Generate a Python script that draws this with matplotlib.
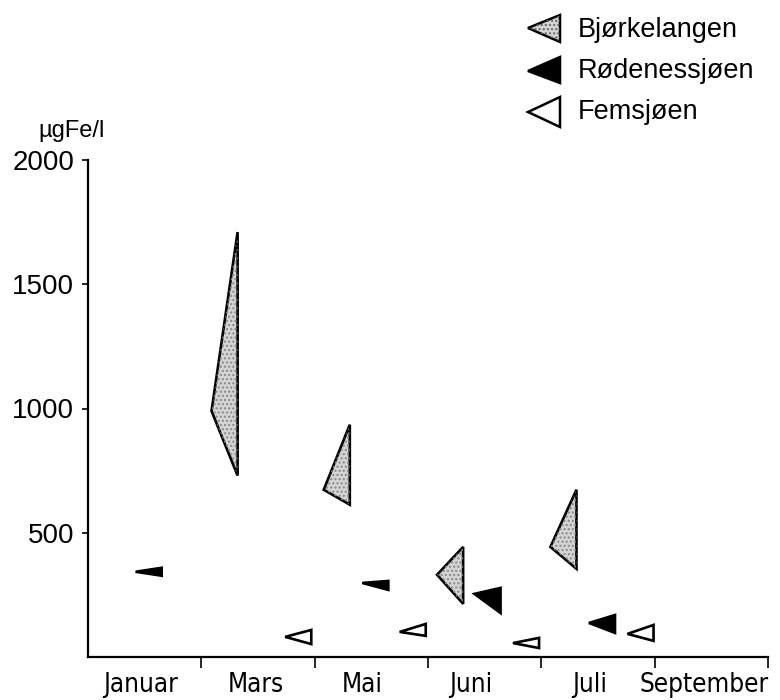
import matplotlib
matplotlib.use("Agg")
import matplotlib.pyplot as plt
from matplotlib.patches import Polygon
from matplotlib import font_manager
from matplotlib.font_manager import FontProperties
from matplotlib.textpath import TextPath

# ---------------- data ----------------
months = ["Januar", "Mars", "Mai", "Juni", "Juli", "September"]
month_label_pos = [0.46, 1.48, 2.42, 3.38, 4.43, 5.44]
yticks = [500, 1000, 1500, 2000]
series_names = ["Bjørkelangen", "Rødenessjøen", "Femsjøen"]

# x = sampling time (in month-interval units), values in µgFe/l
bjork_x = [1.32, 2.31, 3.31, 4.31]
bjork_max = [1710, 935, 443, 673]
bjork_min = [730, 613, 214, 355]
bjork_mean = [990, 673, 331, 443]

roden_x = [0.65, 2.65, 3.64, 4.65]
roden_max = [359, 306, 278, 169]
roden_min = [327, 270, 177, 97]
roden_mean = [343, 298, 254, 137]

fems_x = [1.97, 2.98, 3.98, 4.99]
fems_max = [109, 133, 77, 129]
fems_min = [52, 85, 36, 65]
fems_mean = [81, 101, 56, 93]

# ---------------- style ----------------
W, H = 780, 700
tri_w = 0.23
stipple = "#d4d4d4"
styles = [
    dict(fc=stipple, ec="black"),
    dict(fc="black", ec="black"),
    dict(fc="white", ec="black"),
]
base = "Liberation Sans"

# pick a condensed font for the month labels if one exists
cand = None
for f in font_manager.fontManager.ttflist:
    nm = f.name
    if ("Narrow" in nm or "Condensed" in nm or f.stretch in ("condensed", "semi-condensed")) \
            and f.style == "normal" and f.weight in (400, "normal", "regular") \
            and "Mono" not in nm and "Serif" not in nm:
        cand = f.fname
        break
if cand:
    xprop = FontProperties(fname=cand)
else:
    xprop = FontProperties(family=base)
w1 = TextPath((0, 0), "September", size=1, prop=xprop).get_extents().width
xsize = min(22, 128 * 72 / (100 * w1))
xprop.set_size(xsize)

fig = plt.figure(figsize=(W / 100, H / 100), dpi=100)
ax = fig.add_axes([88 / W, 1 - 657 / H, (768 - 88) / W, (657 - 160) / H])
ax.set_xlim(0, 6)
ax.set_ylim(0, 2000)

for (xs, mx, mn, me), st in zip(
    [(bjork_x, bjork_max, bjork_min, bjork_mean),
     (roden_x, roden_max, roden_min, roden_mean),
     (fems_x, fems_max, fems_min, fems_mean)], styles):
    for x, a, b, m in zip(xs, mx, mn, me):
        pts = [(x, a), (x, b), (x - tri_w, m)]
        ax.add_patch(Polygon(pts, closed=True, facecolor=st["fc"],
                             edgecolor=st["ec"], lw=1.9, joinstyle="miter"))
        if st["fc"] == stipple:
            ax.add_patch(Polygon(pts, closed=True, facecolor="none",
                                 edgecolor="#888888", lw=0, hatch="...."))

for s in ["top", "right"]:
    ax.spines[s].set_visible(False)
for s in ["left", "bottom"]:
    ax.spines[s].set_linewidth(1.6)

ax.set_yticks(yticks)
ax.set_yticklabels([str(v) for v in yticks], fontfamily=base, fontsize=20)
ax.tick_params(axis="y", direction="out", length=4, width=1.2, pad=6)

ax.set_xticks(range(1, 7))
ax.set_xticklabels([])
ax.tick_params(axis="x", which="major", direction="out", length=8, width=1.2)
ax.set_xticks(month_label_pos, minor=True)
ax.set_xticklabels(months, minor=True, fontproperties=xprop)
ax.tick_params(axis="x", which="minor", length=0, pad=11)

fig.text(38 / W, 1 - 131 / H, "µgFe/l", fontfamily=base, fontsize=17,
         ha="left", va="center")

# legend
leg_y = [(15, 28, 42), (57, 71, 83), (97, 112, 127)]
base_y = [37, 78, 119]
for (top, mid, bot), st, name, by in zip(leg_y, styles, series_names, base_y):
    pts = [(560 / W, 1 - top / H), (560 / W, 1 - bot / H), (528 / W, 1 - mid / H)]
    fig.patches.append(Polygon(pts, closed=True, transform=fig.transFigure,
                               facecolor=st["fc"], edgecolor=st["ec"], lw=1.8))
    if st["fc"] == stipple:
        fig.patches.append(Polygon(pts, closed=True, transform=fig.transFigure,
                                   facecolor="none", edgecolor="#666666", lw=0,
                                   hatch="...."))
    fig.text(578 / W, 1 - by / H, name, fontfamily=base, fontsize=19.5,
             ha="left", va="baseline")

fig.savefig("out.png", dpi=100)
